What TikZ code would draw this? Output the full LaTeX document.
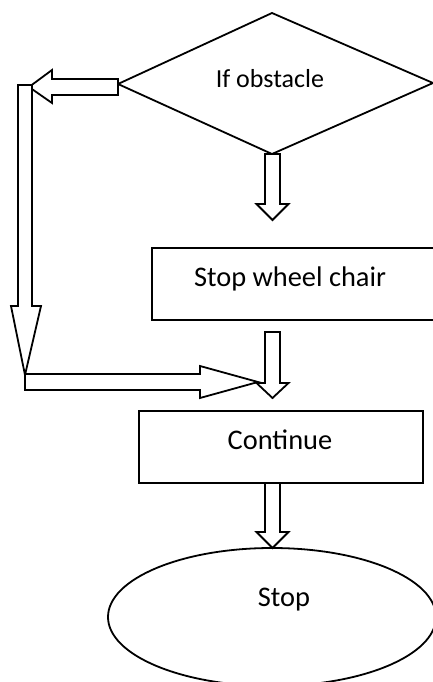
\documentclass[tikz,border=0pt]{standalone}
\usepackage{fontspec}
\setmainfont{Carlito}
\usetikzlibrary{shapes.geometric}
\tikzset{
  outline/.style={draw=black, line width=1.8pt, line join=miter, fill=white},
  boxtext/.style={inner sep=0pt, font=\fontsize{28.4}{34}\selectfont},
  dtext/.style={inner sep=0pt, font=\fontsize{26}{31}\selectfont},
}
\newcommand\bdown[4]{% x-center, y-top, y-base, y-tip
  \draw[outline] (#1-7.5,#2) -- (#1+7.5,#2) -- (#1+7.5,#3) -- (#1+16,#3) -- (#1,#4) -- (#1-16,#3) -- (#1-7.5,#3) -- cycle;}
\begin{document}
\begin{tikzpicture}[x=1pt,y=-1pt]
\useasboundingbox (0,0) rectangle (433,682);
\clip (0,0) rectangle (433,682);
% shapes
\coordinate (dT) at (272,13);
\coordinate (dL) at (118,84);
\coordinate (dR) at (433,83);
\coordinate (dB) at (272,154);
\draw[outline] (dT) -- (dR) -- (dB) -- (dL) -- cycle;
\node[dtext] (dtxt) at (270,79) {If obstacle};

\node[outline, rectangle, minimum width=300pt, minimum height=72pt, inner sep=0pt] (swc) at (302,284) {};
\node[boxtext] (swctxt) at (290,279) {Stop wheel chair};

\node[outline, rectangle, minimum width=284pt, minimum height=72pt, inner sep=0pt] (cont) at (281,447) {};
\node[boxtext] (conttxt) at (280,440) {Continue};

\node[outline, ellipse, minimum width=328pt, minimum height=138pt, inner sep=0pt] (stop) at (272,617) {};
\node[boxtext] (stoptxt) at (284,600) {Stop};

% block arrows
\draw[outline] (118,79) -- (52,79) -- (52,70) -- (29,87) -- (52,103) -- (52,95) -- (118,95) -- cycle;
\draw[outline] (18,85) -- (32,85) -- (32,306) -- (41,306) -- (25,375) -- (11,306) -- (18,306) -- cycle;
\draw[outline] (25,374) -- (200,374) -- (200,366) -- (258,382) -- (200,398) -- (200,390) -- (25,390) -- cycle;
\bdown{272.5}{154}{204}{220}
\bdown{272.5}{332}{383}{398}
\bdown{272.5}{483}{532}{548}
\end{tikzpicture}
\end{document}
